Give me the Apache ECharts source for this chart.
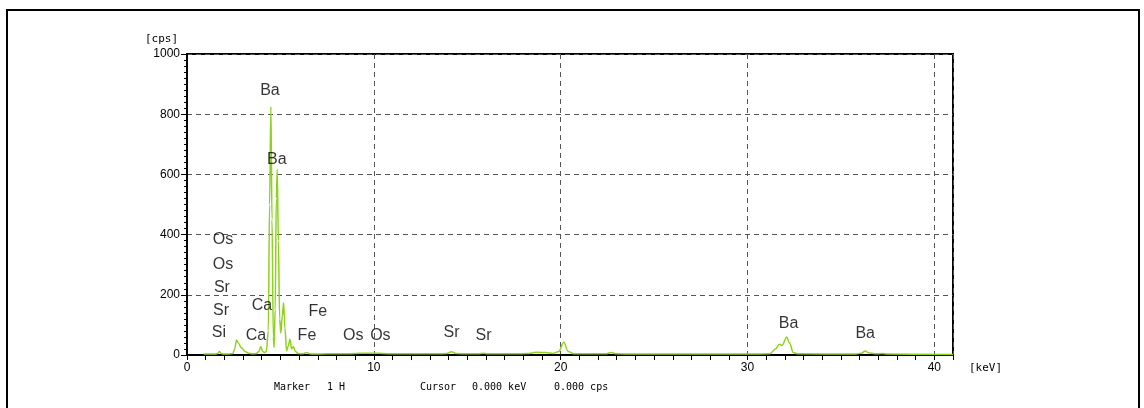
<!DOCTYPE html>
<html>
<head>
<meta charset="utf-8">
<script src="https://cdn.jsdelivr.net/npm/echarts@6/dist/echarts.min.js"></script>
<style>
  html, body { margin: 0; padding: 0; background: #fff; }
  #chart { width: 1144px; height: 408px; }
</style>
</head>
<body>
<div id="chart"></div>
<script>
// spectrum: energy (keV) and intensity (cps)
const energy = [0.9, 1.2, 1.5, 1.65, 1.74, 1.82, 1.95, 2.2, 2.45, 2.55, 2.65, 2.75, 2.9, 3.1, 3.3, 3.5, 3.7, 3.85, 3.95, 4.05,
  4.15, 4.25, 4.35, 4.42, 4.49, 4.55, 4.62, 4.66, 4.72, 4.78, 4.83, 4.89, 4.96, 5.02, 5.1, 5.17, 5.24, 5.33, 5.42, 5.51,
  5.6, 5.69, 5.8, 5.95, 6.2, 6.4, 6.55, 6.8, 7.5, 8.5, 9.0, 9.5, 10.0, 10.5, 11.0, 12.0, 13.5, 13.9, 14.16, 14.4,
  15.0, 15.6, 15.87, 16.1, 17.5, 18.2, 18.7, 19.2, 19.6, 19.9, 20.17, 20.4, 20.7, 21.5, 22.4, 22.7, 23.0, 24, 28, 30,
  31.2, 31.5, 31.7, 31.85, 32.1, 32.25, 32.45, 32.7, 35.8, 36.1, 36.3, 36.5, 36.8, 37.2, 37.5, 41];
const counts = [3, 3, 3, 5, 12, 5, 3, 3, 5, 20, 50, 40, 25, 12, 6, 4, 5, 12, 28, 12,
  8, 12, 80, 500, 825, 450, 60, 25, 150, 520, 617, 380, 120, 73, 130, 174, 90, 14, 30, 52,
  20, 28, 12, 5, 4, 8, 4, 3, 4, 4, 5, 6, 6, 5, 4, 4, 4, 5, 11, 5,
  4, 4, 6, 4, 4, 5, 9, 8, 5, 12, 42, 12, 4, 4, 4, 8, 4, 3, 3, 3,
  4, 20, 36, 32, 60, 40, 8, 4, 3, 6, 13, 7, 4, 5, 3, 2];

// element labels: text, energy, cps position
const peakNames = ['Ba', 'Ba', 'Os', 'Os', 'Sr', 'Sr', 'Si', 'Ca', 'Ca', 'Fe', 'Fe', 'Os', 'Os', 'Sr', 'Sr', 'Ba', 'Ba'];
const peakX = [4.44, 4.81, 1.93, 1.93, 1.87, 1.82, 1.71, 4.01, 3.69, 7.0, 6.42, 8.9, 10.35, 14.16, 15.87, 32.2, 36.3];
const peakY = [877, 648, 385, 302, 223, 146, 73, 163, 63, 143, 63, 63, 63, 73, 63, 106, 70];

const xTicks = [0, 10, 20, 30, 40];
const yTicks = [0, 200, 400, 600, 800, 1000];

const chart = echarts.init(document.getElementById('chart'));

const mono = "'DejaVu Sans Mono', monospace";

chart.setOption({
  animation: false,
  grid: {
    left: 187, right: 191, top: 54, bottom: 53,
    show: true, borderColor: '#000', borderWidth: 2
  },
  xAxis: [{
    type: 'value', min: 0, max: 41, interval: 1,
    name: '[keV]', nameLocation: 'end', nameGap: 16,
    nameTextStyle: { fontFamily: mono, fontSize: 11, color: '#000', verticalAlign: 'top', padding: [8, 0, 0, 0] },
    axisLine: { lineStyle: { color: '#000', width: 2 } },
    axisTick: { length: 5, lineStyle: { color: '#000' } },
    axisLabel: {
      color: '#000', fontSize: 12, fontFamily: 'Liberation Sans', margin: 7,
      formatter: v => xTicks.includes(v) ? String(v) : ''
    },
    splitLine: { show: false }
  }, {
    type: 'value', min: 0, max: 41, interval: 10, position: 'bottom',
    axisLine: { show: false }, axisTick: { show: false }, axisLabel: { show: false },
    splitLine: { show: true, lineStyle: { color: '#555', type: [5, 4], width: 1 } }
  }],
  yAxis: {
    type: 'value', min: 0, max: 1000, interval: 200,
    name: '[cps]', nameLocation: 'end', nameGap: 9,
    nameTextStyle: { fontFamily: mono, fontSize: 11, color: '#000', align: 'right', padding: [0, 9, 0, 0] },
    axisLine: { show: true, lineStyle: { color: '#000', width: 2 } },
    axisTick: { show: true, length: 6, lineStyle: { color: '#000' } },
    minorTick: { show: true, splitNumber: 10, length: 3, lineStyle: { color: '#000' } },
    axisLabel: {
      color: '#000', fontSize: 12, fontFamily: 'Liberation Sans', margin: 7,
      formatter: v => yTicks.includes(v) ? String(v) : ''
    },
    splitLine: { show: true, lineStyle: { color: '#555', type: [5, 4], width: 1 } }
  },
  series: [{
    type: 'line',
    data: energy.map((e, i) => [e, counts[i]]),
    showSymbol: false,
    smooth: 0.35,
    smoothMonotone: 'x',
    lineStyle: { color: '#8fd11e', width: 1.5 },
    z: 3
  }, {
    type: 'scatter',
    symbolSize: 0,
    silent: true,
    data: peakNames.map((n, i) => ({ name: n, value: [peakX[i], peakY[i]] })),
    label: {
      show: true, position: 'inside', formatter: '{b}',
      color: '#000', fontSize: 16, fontFamily: 'Liberation Sans'
    },
    z: 4
  }],
  graphic: [
    { type: 'rect', shape: { x: 7, y: 10, width: 1132, height: 420 },
      style: { fill: 'none', stroke: '#000', lineWidth: 2 }, silent: true },
    { type: 'text', x: 274, y: 387, style: { text: 'Marker', font: '10px ' + mono, fill: '#000', verticalAlign: 'middle' } },
    { type: 'text', x: 327, y: 387, style: { text: '1 H', font: '10px ' + mono, fill: '#000', verticalAlign: 'middle' } },
    { type: 'text', x: 420, y: 387, style: { text: 'Cursor', font: '10px ' + mono, fill: '#000', verticalAlign: 'middle' } },
    { type: 'text', x: 472, y: 387, style: { text: '0.000 keV', font: '10px ' + mono, fill: '#000', verticalAlign: 'middle' } },
    { type: 'text', x: 554, y: 387, style: { text: '0.000 cps', font: '10px ' + mono, fill: '#000', verticalAlign: 'middle' } }
  ]
});
</script>
</body>
</html>
